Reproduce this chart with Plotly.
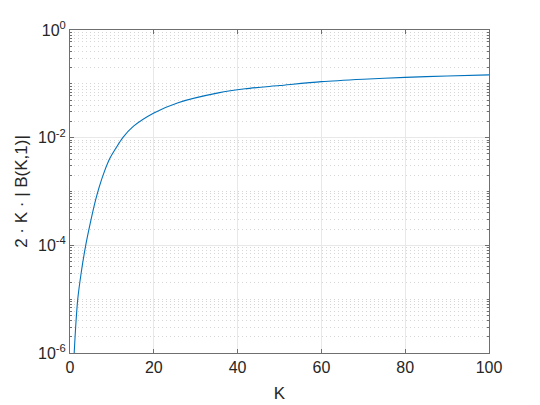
import plotly.graph_objects as go

# values (semilogy curve)
k_values = [1.0, 1.4, 1.85, 2.7, 3.75, 4.8, 6.1, 7.0, 8.2, 9.55, 11.0, 12.6,
            15.1, 19.9, 25.8, 35.4, 41.8, 50, 60, 70, 80, 90, 100]
b_values = [1.0e-6, 3.5e-6, 1.0e-5, 3.2e-5, 1.0e-4, 2.5e-4, 6.9e-4, 1.23e-3,
            2.34e-3, 4.17e-3, 6.46e-3, 1.0e-2, 1.62e-2, 2.85e-2, 4.47e-2,
            6.8e-2, 8.1e-2, 9.3e-2, 0.110, 0.122, 0.132, 0.140, 0.147]

x_ticks = [0, 20, 40, 60, 80, 100]
y_ticks = [1e-6, 1e-4, 1e-2, 1e0]
y_ticktext = ["10<sup>-6</sup>", "10<sup>-4</sup>", "10<sup>-2</sup>", "10<sup>0</sup>"]
# minor ticks: every 1..9 x 10^n that is not a labelled tick
y_minor = [m * 10.0 ** e for e in range(-6, 0) for m in range(1, 10)
           if not (m == 1 and e % 2 == 0)]

axis_col = "#6f6f6f"
text_col = "#262626"
font = "Liberation Sans, Arial, Helvetica, sans-serif"

fig = go.Figure()
fig.add_trace(go.Scatter(x=k_values, y=b_values, mode="lines",
                         line=dict(color="#0072BD", width=1.1, shape="spline",
                                   smoothing=0.8),
                         showlegend=False))

fig.update_layout(
    width=540, height=405,
    margin=dict(l=70, r=51, t=30, b=52),
    paper_bgcolor="white", plot_bgcolor="white",
    font=dict(family=font, color=text_col, size=16),
)
fig.update_xaxes(
    range=[0, 100], tickvals=x_ticks, ticks="inside", ticklen=4,
    tickcolor=axis_col, showline=True, linecolor=axis_col, linewidth=1,
    mirror="allticks", showgrid=True, gridcolor="#e8e8e8", gridwidth=1,
    zeroline=False, tickfont=dict(size=16, color=text_col), automargin=False,
    title=dict(text="K", font=dict(size=17, color=text_col), standoff=11),
)
fig.update_yaxes(
    type="log", range=[-6, 0], tickvals=y_ticks, ticktext=y_ticktext,
    ticks="inside", ticklen=4, tickcolor=axis_col, showline=True,
    linecolor=axis_col, linewidth=1, mirror="allticks",
    showgrid=True, gridcolor="#e8e8e8", gridwidth=1, zeroline=False,
    tickfont=dict(size=16, color=text_col), automargin=False,
    minor=dict(tickvals=y_minor, ticks="inside", ticklen=2, tickcolor=axis_col,
               showgrid=True, gridcolor="#d6d6d6", griddash="1px,3px",
               gridwidth=1),
    title=dict(text="2 · K · | B(K,1)|", font=dict(size=17, color=text_col),
               standoff=6),
)

# drop the browser's default page margin so the figure sits at 0,0
fig.write_html("out.html", config={"displayModeBar": False},
               post_script="document.body.style.margin='0';")
